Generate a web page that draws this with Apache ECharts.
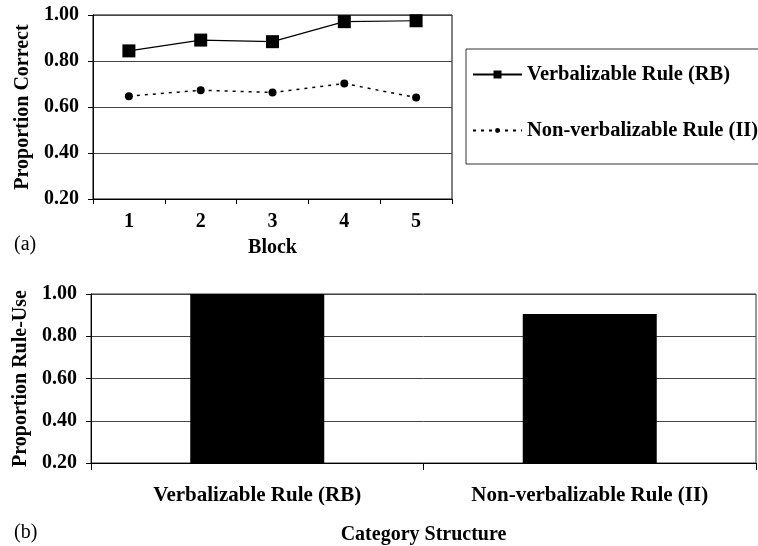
<!DOCTYPE html>
<html>
<head>
<meta charset="utf-8">
<script src="https://cdn.jsdelivr.net/npm/echarts@6/dist/echarts.min.js"></script>
<style>
  html, body { margin: 0; padding: 0; background: #fff; }
  #chart { width: 758px; height: 546px; }
</style>
</head>
<body>
<div id="chart"></div>
<script>
// Panel (a): accuracy by block for the two category structures
const blocks = ['1', '2', '3', '4', '5'];
const rbCorrect = [0.844, 0.891, 0.884, 0.971, 0.975];
const iiCorrect = [0.647, 0.673, 0.663, 0.702, 0.641];

// Panel (b): proportion of participants using a rule
const structures = ['Verbalizable Rule (RB)', 'Non-verbalizable Rule (II)'];
const ruleUse = [1.00, 0.905];

const seriesNames = ['Verbalizable Rule (RB)', 'Non-verbalizable Rule (II)'];

const FONT = 'Liberation Serif';
const boldText = { fontFamily: FONT, fontWeight: 'bold', fontSize: 20, color: '#000' };
const boldWide = Object.assign({}, boldText, { fontSize: 21 });
const legendText = Object.assign({}, boldText, { fontSize: 20.5, lineHeight: 20 });

function valueAxis(gridIndex, name, gap) {
  return {
    type: 'value', gridIndex,
    min: 0.2, max: 1.0, interval: 0.2,
    name, nameLocation: 'middle', nameGap: gap,
    nameTextStyle: Object.assign({}, boldText),
    axisLine: { show: true, lineStyle: { color: '#000', width: 1 } },
    axisTick: { show: true, length: 5, lineStyle: { color: '#000' } },
    axisLabel: Object.assign({ margin: 14, formatter: v => v.toFixed(2) }, boldText),
    splitLine: { show: true, lineStyle: { color: '#444', width: 1 } }
  };
}

const chart = echarts.init(document.getElementById('chart'), null, { renderer: 'canvas' });

chart.setOption({
  animation: false,
  backgroundColor: '#fff',
  grid: [
    { left: 93, top: 15, width: 359, height: 184, show: true, borderColor: '#000', borderWidth: 1, containLabel: false },
    { left: 91, top: 294, width: 665, height: 169, show: true, borderColor: '#333', borderWidth: 1, containLabel: false }
  ],
  xAxis: [
    {
      type: 'category', gridIndex: 0, data: blocks, boundaryGap: true,
      name: 'Block', nameLocation: 'middle', nameGap: 39,
      nameTextStyle: Object.assign({}, boldText),
      axisLine: { lineStyle: { color: '#000', width: 1 } },
      axisTick: { show: true, length: 5, lineStyle: { color: '#000' } },
      axisLabel: Object.assign({ margin: 13 }, boldText)
    },
    {
      type: 'category', gridIndex: 1, data: structures, boundaryGap: true,
      name: 'Category Structure', nameLocation: 'middle', nameGap: 62,
      nameTextStyle: Object.assign({}, boldText),
      axisLine: { lineStyle: { color: '#000', width: 1 } },
      axisTick: { show: true, length: 7, lineStyle: { color: '#000' } },
      axisLabel: Object.assign({ margin: 22 }, boldWide)
    }
  ],
  yAxis: [
    valueAxis(0, 'Proportion Correct', 60),
    valueAxis(1, 'Proportion Rule-Use', 58)
  ],
  legend: [
    {
      data: [seriesNames[0]],
      left: 466, top: 49, orient: 'vertical',
      padding: [15, 120, 79, 6],
      itemWidth: 49, itemHeight: 10,
      borderColor: '#333', borderWidth: 1, backgroundColor: '#fff',
      textStyle: legendText,
      selectedMode: false
    },
    {
      data: [seriesNames[1]],
      left: 466, top: 120, orient: 'vertical',
      padding: [0, 0, 0, 6],
      itemWidth: 49, itemHeight: 6,
      textStyle: legendText,
      selectedMode: false, z: 5
    }
  ],
  graphic: [
    { type: 'text', left: 14, top: 235, style: { text: '(a)', font: '20px "Liberation Serif"', fill: '#000' } },
    { type: 'text', left: 14, top: 523, style: { text: '(b)', font: '20px "Liberation Serif"', fill: '#000' } }
  ],
  series: [
    {
      name: seriesNames[0], type: 'line', xAxisIndex: 0, yAxisIndex: 0,
      data: rbCorrect,
      symbol: 'rect', symbolSize: 13,
      lineStyle: { color: '#000', width: 1.2 },
      itemStyle: { color: '#000' }
    },
    {
      name: seriesNames[1], type: 'line', xAxisIndex: 0, yAxisIndex: 0,
      data: iiCorrect,
      symbol: 'circle', symbolSize: 8,
      lineStyle: { color: '#000', width: 1.5, type: [3, 5] },
      itemStyle: { color: '#000' }
    },
    {
      name: 'Rule use', type: 'bar', xAxisIndex: 1, yAxisIndex: 1,
      data: ruleUse, barWidth: 134,
      itemStyle: { color: '#000' }
    }
  ]
});
</script>
</body>
</html>
